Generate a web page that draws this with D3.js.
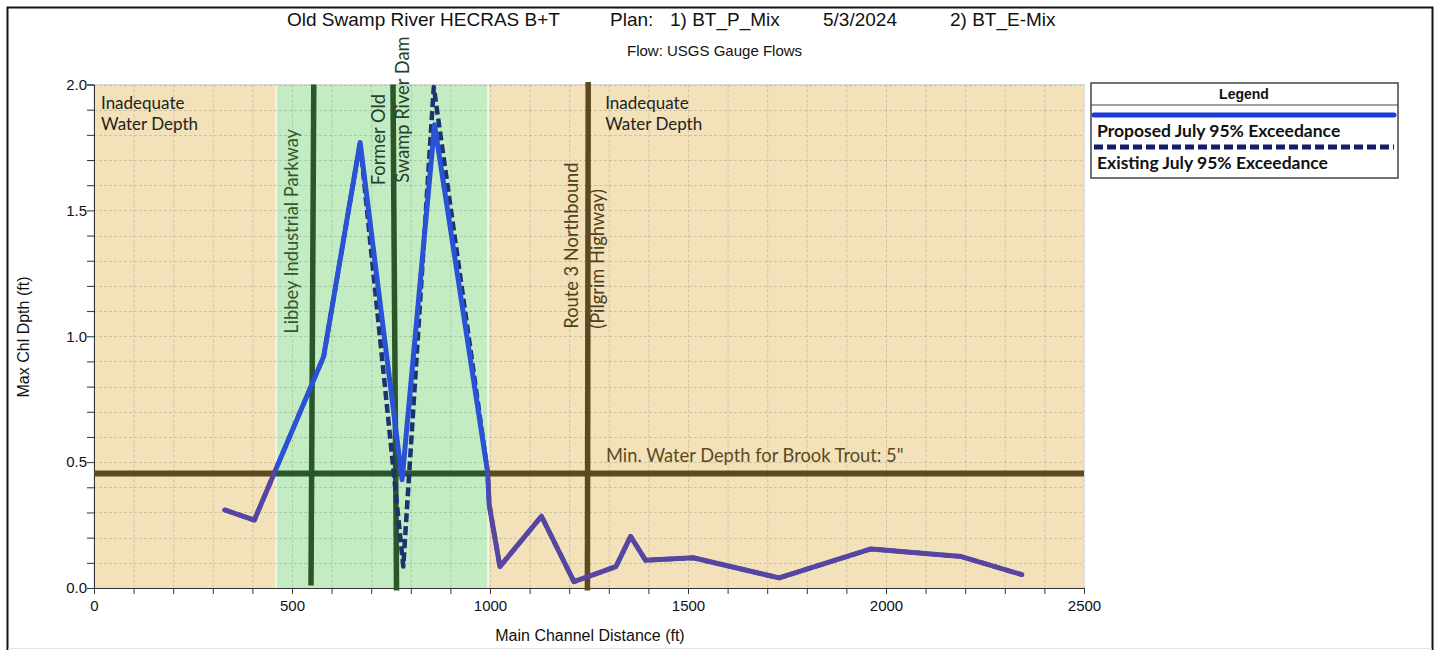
<!DOCTYPE html>
<html>
<head>
<meta charset="utf-8">
<script src="https://cdn.jsdelivr.net/npm/d3@7"></script>
<style>
  body { margin: 0; background: #ffffff; }
  svg { display: block; }
  .arial { font-family: "Liberation Sans", Arial, sans-serif; }
  .cal { font-family: Lato, "Open Sans", sans-serif; }
</style>
</head>
<body>
<svg id="chart" width="1440" height="650"></svg>
<script>
// ---- Profile results: station along main channel (ft) and max channel depth (ft)
const proposedStation = [330, 405, 580, 672, 778, 860, 994, 998, 1025, 1130, 1212, 1318, 1355, 1393, 1513, 1730, 1962, 2190, 2343];
const proposedDepth   = [0.31, 0.27, 0.92, 1.77, 0.43, 1.84, 0.46, 0.33, 0.085, 0.285, 0.025, 0.085, 0.205, 0.11, 0.12, 0.04, 0.155, 0.125, 0.053];

const existingStation = [330, 405, 580, 672, 781, 858, 994, 998, 1025, 1130, 1212, 1318, 1355, 1393, 1513, 1730, 1962, 2190, 2343];
const existingDepth   = [0.31, 0.27, 0.92, 1.77, 0.085, 1.99, 0.46, 0.33, 0.085, 0.285, 0.025, 0.085, 0.205, 0.11, 0.12, 0.04, 0.155, 0.125, 0.053];

const seriesNames = ["Proposed July 95% Exceedance", "Existing July 95% Exceedance"];

// ---- Shaded reaches (ft)
const reachStart = [0, 460, 995];
const reachEnd   = [460, 995, 2500];
const reachAdequate = [false, true, false];

// ---- Road / structure crossings (ft), drawn top to bottom
const crossingTopStation    = [555, 755, 1248];
const crossingBottomStation = [548, 764, 1246];
const crossingTopDepth      = [2.0, 2.0, 2.01];
const crossingBottomDepth   = [0.01, -0.01, -0.01];
const crossingLabels = [
  ["Libbey Industrial Parkway"],
  ["Former Old", "Swamp River Dam"],
  ["Route 3 Northbound", "(Pilgrim Highway)"]
];

// ---- Brook trout threshold depth (ft)
const minTroutDepth = 0.455;

// ---- Axis ticks
const xMinorTicks = d3.range(0, 2501, 100);
const xLabelTicks = [0, 500, 1000, 1500, 2000, 2500];
const yMinorTicks = d3.range(0, 21, 1).map(d => d / 10);
const yLabelTicks = [0, 0.5, 1.0, 1.5, 2.0];

// ---- Colours
const tan = "#f3e2b9", green = "#c3ecc3";
const lineBlue = "#2a52d6", linePurple = "#5645a2", dashNavy = "#1c336f";
const brown = "#5b4a20", darkGreen = "#2a562a";

const svg = d3.select("#chart");
const plot = { left: 94, right: 1084, top: 84.5, bottom: 588 };

const x = d3.scaleLinear().domain([0, 2500]).range([plot.left, plot.right]);
const y = d3.scaleLinear().domain([0, 2]).range([plot.bottom, plot.top]);

// outer frame
svg.append("rect").attr("x", 7.5).attr("y", 7.5).attr("width", 1425).attr("height", 660)
  .attr("fill", "#fff").attr("stroke", "#111").attr("stroke-width", 2);
svg.append("line").attr("x1", 8).attr("x2", 1432).attr("y1", 648.5).attr("y2", 648.5)
  .attr("stroke", "#e6e6e6").attr("stroke-width", 1);

// gradients: colour of a line changes between the shaded reaches
const defs = svg.append("defs");
function bandGradient(id, inside, outside) {
  const g = defs.append("linearGradient").attr("id", id)
    .attr("gradientUnits", "userSpaceOnUse")
    .attr("x1", plot.left).attr("x2", plot.right).attr("y1", 0).attr("y2", 0);
  const span = plot.right - plot.left;
  reachStart.forEach((s, i) => {
    const c = reachAdequate[i] ? inside : outside;
    g.append("stop").attr("offset", (x(s) - plot.left) / span).attr("stop-color", c);
    g.append("stop").attr("offset", (x(reachEnd[i]) - plot.left) / span).attr("stop-color", c);
  });
}
bandGradient("gradProposed", lineBlue, linePurple);
bandGradient("gradThreshold", darkGreen, brown);

// reach shading
svg.append("g").selectAll("rect").data(reachStart).join("rect")
  .attr("x", (d) => x(d))
  .attr("width", (d, i) => x(reachEnd[i]) - x(d))
  .attr("y", plot.top).attr("height", plot.bottom - plot.top)
  .attr("fill", (d, i) => reachAdequate[i] ? green : tan);
svg.append("g").selectAll("line").data([reachStart[1], reachEnd[1]]).join("line")
  .attr("x1", d => x(d)).attr("x2", d => x(d))
  .attr("y1", plot.top).attr("y2", plot.bottom)
  .attr("stroke", "#f4fbf0").attr("stroke-width", 1.5);

// grid
const grid = svg.append("g").attr("stroke", "#8a8a7a").attr("stroke-opacity", 0.45)
  .attr("stroke-width", 0.8).attr("stroke-dasharray", "3,2");
grid.selectAll(".gx").data(xMinorTicks.slice(1)).join("line")
  .attr("x1", d => x(d) + 0.5).attr("x2", d => x(d) + 0.5)
  .attr("y1", plot.top).attr("y2", plot.bottom);
grid.selectAll(".gy").data(yMinorTicks.slice(1)).join("line")
  .attr("y1", d => Math.round(y(d)) + 0.5).attr("y2", d => Math.round(y(d)) + 0.5)
  .attr("x1", plot.left).attr("x2", plot.right);
svg.append("rect").attr("x", plot.left).attr("y", plot.top)
  .attr("width", plot.right - plot.left).attr("height", plot.bottom - plot.top)
  .attr("fill", "none").attr("stroke", "#d8d8d8").attr("stroke-width", 1);

// axes
const xAxis = d3.axisBottom(x).tickValues(xMinorTicks).tickSize(6)
  .tickFormat(d => xLabelTicks.includes(d) ? d3.format("d")(d) : "");
const gx = svg.append("g").attr("transform", `translate(0,${plot.bottom})`).call(xAxis);
gx.select(".domain").attr("stroke", "#333");
gx.selectAll(".tick line").attr("stroke", "#333");
gx.selectAll("text").attr("class", "arial").attr("font-size", 15).attr("fill", "#111").attr("dy", "0.9em");

const yAxis = d3.axisLeft(y).tickValues(yMinorTicks).tickSize(7)
  .tickFormat(d => yLabelTicks.some(v => Math.abs(v - d) < 1e-9) ? d3.format(".1f")(d) : "");
const gy = svg.append("g").attr("transform", `translate(${plot.left},0)`).call(yAxis);
gy.select(".domain").attr("stroke", "#333");
gy.selectAll(".tick line").attr("stroke", "#333");
gy.selectAll("text").attr("class", "arial").attr("font-size", 15).attr("fill", "#111").attr("x", -7);

// threshold line
svg.append("line")
  .attr("x1", x(0)).attr("x2", x(2500))
  .attr("y1", y(minTroutDepth)).attr("y2", y(minTroutDepth))
  .attr("stroke", "url(#gradThreshold)").attr("stroke-width", 6);
svg.append("text").attr("class", "cal")
  .attr("x", x(1293)).attr("y", y(minTroutDepth) - 11)
  .attr("font-size", 18.3).attr("fill", brown)
  .text("Min. Water Depth for Brook Trout: 5\"");

// crossing lines
const crossColors = [darkGreen, darkGreen, brown];
svg.append("g").selectAll("line").data(crossingTopStation).join("line")
  .attr("x1", d => x(d)).attr("y1", (d, i) => y(crossingTopDepth[i]))
  .attr("x2", (d, i) => x(crossingBottomStation[i])).attr("y2", (d, i) => y(crossingBottomDepth[i]))
  .attr("stroke", (d, i) => crossColors[i]).attr("stroke-width", 5.5);

// crossing labels: [baseline offset from line (px), start depth]
const labelPlacement = [
  [[-16, 1.01]],
  [[-8, 1.6], [16, 1.61]],
  [[-10, 1.03], [16, 1.03]]
];
const labelColors = [["#2e5b2e"], ["#27412a", "#27412a"], ["#4e4123", "#4e4123"]];
crossingLabels.forEach((lines, i) => {
  lines.forEach((t, j) => {
    const [dx, dep] = labelPlacement[i][j];
    svg.append("text").attr("class", "cal")
      .attr("transform", `translate(${x(crossingTopStation[i]) + dx},${y(dep)}) rotate(-90)`)
      .attr("font-size", 18.3).attr("fill", labelColors[i][j]).text(t);
  });
});

// reach notes (two lines each)
const noteLines = ["Inadequate", "Water Depth"];
[0, 2].forEach(i => {
  const x0 = i === 0 ? x(reachStart[i]) + 7 : x(crossingTopStation[2]) + 17;
  noteLines.forEach((t, k) => {
    svg.append("text").attr("class", "cal").attr("font-size", 17).attr("fill", "#222")
      .attr("x", x0).attr("y", 109 + k * 21).text(t);
  });
});

// profiles
const line = d3.line().x(d => x(d[0])).y(d => y(d[1]));
const existing = existingStation.map((s, i) => [s, existingDepth[i]]);
const proposed = proposedStation.map((s, i) => [s, proposedDepth[i]]);
svg.append("path").datum(existing).attr("d", line)
  .attr("fill", "none").attr("stroke", dashNavy).attr("stroke-width", 4.5)
  .attr("stroke-dasharray", "9,4").attr("stroke-linejoin", "round");
svg.append("path").datum(proposed).attr("d", line)
  .attr("fill", "none").attr("stroke", "url(#gradProposed)").attr("stroke-width", 5)
  .attr("stroke-linejoin", "round").attr("stroke-linecap", "round");

// axis titles
svg.append("text").attr("class", "arial").attr("font-size", 16).attr("fill", "#111")
  .attr("text-anchor", "middle").attr("x", 590).attr("y", 641).text("Main Channel Distance (ft)");
svg.append("text").attr("class", "arial").attr("font-size", 16).attr("fill", "#111")
  .attr("text-anchor", "middle").attr("transform", "translate(29,337) rotate(-90)").text("Max Chl Dpth (ft)");

// title
const titleParts = [
  ["Old Swamp River HECRAS B+T", 287],
  ["Plan:", 610],
  ["1) BT_P_Mix", 670],
  ["5/3/2024", 823],
  ["2) BT_E-Mix", 950]
];
svg.append("g").selectAll("text").data(titleParts).join("text").attr("class", "arial")
  .attr("x", d => d[1]).attr("y", 26).attr("font-size", 19).attr("fill", "#111").text(d => d[0]);
svg.append("text").attr("class", "arial").attr("x", 627).attr("y", 56)
  .attr("font-size", 15).attr("fill", "#111").text("Flow: USGS Gauge Flows");

// legend
const lg = svg.append("g");
lg.append("rect").attr("x", 1091).attr("y", 83).attr("width", 307).attr("height", 95)
  .attr("fill", "#fff").attr("stroke", "#444").attr("stroke-width", 1.5);
lg.append("line").attr("x1", 1091).attr("x2", 1398).attr("y1", 105).attr("y2", 105)
  .attr("stroke", "#444").attr("stroke-width", 1.2);
lg.append("text").attr("class", "arial").attr("x", 1244).attr("y", 99).attr("text-anchor", "middle")
  .attr("font-size", 14).attr("font-weight", "bold").attr("fill", "#111").text("Legend");
const legendStyles = [
  { color: "#1a3ad6", dash: null, y: 115, ty: 137 },
  { color: "#141d6b", dash: "9,4", y: 147, ty: 169 }
];
seriesNames.forEach((name, i) => {
  const s = legendStyles[i];
  const l = lg.append("line").attr("x1", 1094).attr("x2", 1394).attr("y1", s.y).attr("y2", s.y)
    .attr("stroke", s.color).attr("stroke-width", 5).attr("stroke-linecap", "round");
  if (s.dash) l.attr("stroke-dasharray", s.dash).attr("stroke-linecap", "butt");
  lg.append("text").attr("class", "cal").attr("x", 1097).attr("y", s.ty)
    .attr("font-size", 17.5).attr("font-weight", "bold").attr("fill", "#111").text(name);
});
</script>
</body>
</html>
